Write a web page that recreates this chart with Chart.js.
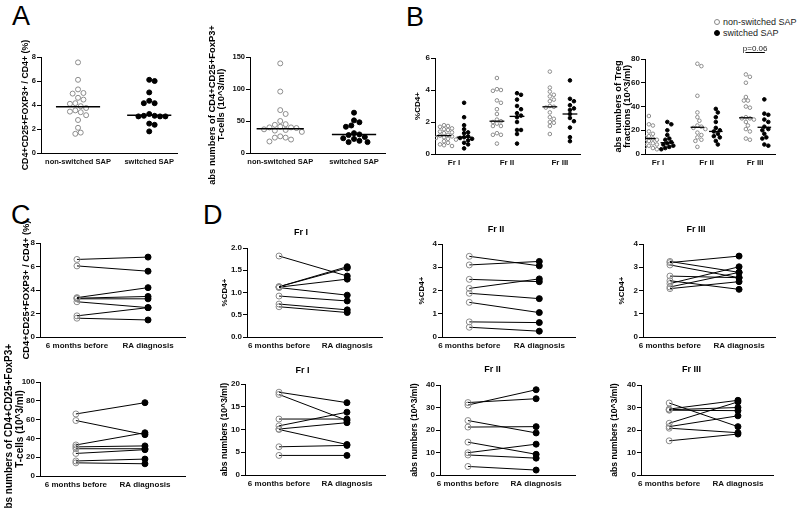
<!DOCTYPE html>
<html>
<head>
<meta charset="utf-8">
<script src="https://cdn.jsdelivr.net/npm/chart.js@4.4.0/dist/chart.umd.min.js"></script>
<style>
html, body { margin: 0; padding: 0; background: #fff; overflow: hidden; width: 798px; height: 508px; }
#fig { position: relative; width: 798px; height: 508px; overflow: hidden; font-family: 'Liberation Sans', Arial, sans-serif; }
#fig canvas { position: absolute; }
.letter { position: absolute; font-size: 27px; line-height: 1; color: #000; }
.legend { position: absolute; left: 714px; top: 17px; font-size: 9px; line-height: 10.5px; color: #222; }
.dot { display: inline-block; width: 4px; height: 4px; border-radius: 50%; border: 1px solid #888; margin-right: 3px; vertical-align: 0px; }
.dot.filled { background: #000; border-color: #000; }
</style>
</head>
<body>
<div id="fig">
  <div class="letter" style="left:12px;top:3px">A</div>
  <div class="letter" style="left:406px;top:4px">B</div>
  <div class="letter" style="left:11px;top:202px">C</div>
  <div class="letter" style="left:203px;top:202px">D</div>
  <div class="legend">
    <div><span class="dot"></span>non-switched SAP</div>
    <div><span class="dot filled"></span>switched SAP</div>
  </div>
</div>
<script>
// ---- categories ----
const groupsA = ['non-switched SAP', 'switched SAP'];
const fractions = ['Fr I', 'Fr II', 'Fr III'];
const timepoints = ['6 months before', 'RA diagnosis'];

// ---- A: Treg % and absolute numbers ----
const aPctNon = [7.55, 6.1, 5.3, 5.0, 4.95, 4.6, 4.45, 4.15, 4.1, 3.9, 3.75, 3.55, 3.45, 3.4, 3.15, 2.75, 2.1, 1.7, 1.6];
const aPctSw = [6.1, 6.0, 5.05, 4.35, 4.15, 4.15, 3.25, 3.1, 3.05, 3.05, 3.05, 3.1, 2.45, 2.35, 1.8];
const aPctMedians = [3.85, 3.15];
const aAbsNon = [140, 96, 67, 61, 50, 45, 44, 41, 40, 40, 39, 37, 36, 35, 33, 26, 24, 24, 21, 18];
const aAbsSw = [63, 51, 48, 43, 41, 31, 29, 28, 25, 23, 22, 19, 17, 17];
const aAbsMedians = [38, 29];

// ---- B: Treg fractions ----
const bPctNonFrI = [1.8, 1.75, 1.7, 1.6, 1.55, 1.5, 1.4, 1.35, 1.3, 1.2, 1.15, 1.1, 1.05, 1.0, 0.95, 0.9, 0.8, 0.7, 0.6, 0.55, 0.5];
const bPctSwFrI = [3.2, 2.3, 1.8, 1.55, 1.35, 1.3, 1.1, 1.05, 1.0, 0.95, 0.85, 0.7, 0.6, 0.35];
const bPctNonFrII = [4.75, 4.05, 4.0, 3.95, 3.35, 3.2, 2.8, 2.5, 2.15, 2.05, 2.0, 1.9, 1.75, 1.75, 1.3, 1.2, 1.2, 0.65];
const bPctSwFrII = [3.8, 3.7, 3.4, 3.0, 2.8, 2.55, 2.4, 2.3, 2.0, 1.5, 1.5, 1.25, 0.65];
const bPctNonFrIII = [5.15, 4.15, 3.9, 3.7, 3.6, 3.4, 3.3, 3.0, 2.95, 2.9, 2.6, 2.3, 2.2, 2.0, 1.95, 1.75, 1.25];
const bPctSwFrIII = [4.6, 3.45, 3.3, 3.05, 2.85, 2.75, 2.5, 2.25, 2.05, 1.65, 1.05, 0.8];
const bPctMediansNon = [1.15, 2.05, 2.95];
const bPctMediansSw = [1.05, 2.35, 2.5];

const bAbsNonFrI = [32, 25, 24, 19, 17, 15, 14, 13, 12, 11, 10, 9, 8, 7, 6, 5, 4];
const bAbsSwFrI = [27, 25, 20, 16, 13, 12, 10, 9, 8, 7, 6, 5, 4];
const bAbsNonFrII = [76, 74, 49, 35, 31, 28, 24, 23, 22, 21, 18, 16, 14, 12, 11, 6];
const bAbsSwFrII = [38, 35, 31, 27, 22, 20, 19, 17, 15, 14, 11, 8];
const bAbsNonFrIII = [67, 65, 60, 48, 45, 45, 40, 39, 31, 30, 30, 29, 27, 24, 21, 19, 13, 12];
const bAbsSwFrIII = [46, 34, 33, 29, 27, 23, 21, 20, 17, 14, 13, 8, 7];
const bAbsMediansNon = [13, 22.5, 30.5];
const bAbsMediansSw = [9.5, 19, 22.5];
const pLabel = 'p=0.06';

// ---- C: paired Treg, before vs at diagnosis ----
const cPctBefore = [6.6, 6.05, 3.35, 3.3, 3.25, 3.0, 1.8, 1.6];
const cPctAfter = [6.8, 5.6, 4.2, 3.45, 3.25, 2.5, 2.5, 1.45];
const cAbsBefore = [66, 59, 33, 31, 29, 24, 16, 14];
const cAbsAfter = [78, 44, 46, 32, 29, 28, 18, 13];

// ---- D: paired fractions ----
const dPctFrIBefore = [1.82, 1.13, 1.13, 1.12, 1.11, 0.92, 0.74, 0.68];
const dPctFrIAfter = [1.37, 1.58, 1.55, 1.3, 0.94, 0.81, 0.61, 0.55];
const dPctFrIIBefore = [3.47, 3.1, 2.48, 2.09, 1.88, 1.49, 0.65, 0.42];
const dPctFrIIAfter = [3.06, 3.25, 2.38, 2.5, 1.65, 1.05, 0.62, 0.25];
const dPctFrIIIBefore = [3.25, 3.2, 3.1, 2.62, 2.42, 2.3, 2.15, 2.08];
const dPctFrIIIAfter = [2.78, 3.48, 2.55, 2.55, 2.05, 3.02, 2.78, 2.38];
const dAbsFrIBefore = [18.2, 17.7, 12.3, 10.8, 10.1, 10.0, 6.2, 4.3];
const dAbsFrIAfter = [15.9, 12.0, 12.3, 13.8, 11.5, 6.7, 6.5, 4.3];
const dAbsFrIIBefore = [32.2, 31.1, 24.2, 21.3, 14.6, 9.9, 8.9, 3.8];
const dAbsFrIIAfter = [33.9, 37.9, 18.7, 21.5, 9.2, 13.7, 7.5, 2.2];
const dAbsFrIIIBefore = [32, 29.3, 29, 28.8, 23, 21.5, 20.8, 15.2];
const dAbsFrIIIAfter = [21.5, 33.2, 30, 28.6, 32.5, 26.3, 18.8, 18.2];

const FONT = "'Liberation Sans', Arial, sans-serif";
const OPEN = { pointBackgroundColor: 'rgba(255,255,255,0)', pointBorderColor: '#8c8c8c', pointBorderWidth: 1 };
const FILLED = { pointBackgroundColor: '#000', pointBorderColor: '#000', pointBorderWidth: 1 };
const EXTRA = 45; // spare canvas room so long axis titles are not cut off

Chart.defaults.font.family = FONT;

// simple beeswarm: spread points sideways so they do not overlap
function swarm(values, pxX, pxY, r) {
    const d = 2 * r + 0.4;
    const step = d / 2;
    const placed = [];
    const offs = values.map(() => 0);
    values.map((v, i) => i).sort((a, b) => values[b] - values[a]).forEach(i => {
        const py = values[i] * pxY;
        for (let k = 0; k < 60; k++) {
            const px = Math.ceil(k / 2) * step * (k % 2 ? 1 : -1);
            if (placed.every(p => Math.hypot(p[0] - px, p[1] - py) >= d)) {
                placed.push([px, py]);
                offs[i] = px / pxX;
                break;
            }
        }
    });
    return offs;
}

function groupPoints(values, center, g, r, style) {
    const offs = swarm(values, g.pxX, g.pxY, r);
    return Object.assign({
        data: values.map((v, i) => ({ x: center + offs[i], y: v })),
        pointRadius: r, pointHoverRadius: r
    }, style);
}

function medianLine(m, center, half, width) {
    return {
        showLine: true, data: [{ x: center - half, y: m }, { x: center + half, y: m }],
        borderColor: '#000', borderWidth: width, pointRadius: 0
    };
}

function pairLines(before, after) {
    return before.map((b, i) => ({
        showLine: true, data: [{ x: 0, y: b }, { x: 1, y: after[i] }],
        borderColor: '#000', borderWidth: 1, pointRadius: 3, pointHoverRadius: 3,
        pointBackgroundColor: ['rgba(255,255,255,0)', '#000'],
        pointBorderColor: ['#8c8c8c', '#000'], pointBorderWidth: 1
    }));
}

const pValuePlugin = {
    id: 'pvalue',
    afterDraw(chart) {
        const { ctx, scales: { x } } = chart;
        const x1 = x.getPixelForValue(2 - 0.2), x2 = x.getPixelForValue(2 + 0.2);
        const yy = chart.chartArea.top - 6.5;
        ctx.save();
        ctx.strokeStyle = '#000';
        ctx.lineWidth = 1;
        ctx.beginPath();
        ctx.moveTo(x1, yy);
        ctx.lineTo(x2, yy);
        ctx.stroke();
        ctx.fillStyle = '#222';
        ctx.font = '8px ' + FONT;
        ctx.textAlign = 'center';
        ctx.textBaseline = 'alphabetic';
        ctx.fillText(pLabel, (x1 + x2) / 2, yy - 2);
        ctx.restore();
    }
};

function makeChart(s) {
    const [l, t, r, b] = s.plot;
    const lhRel = s.yTitleLH || 1.15;
    const cl = Math.round(s.titleX - s.yTitleSize * lhRel / 2);
    const padL = l - cl;
    const padB = 17 + EXTRA;
    let padR = 8;
    let ct, layoutTop, titleOpt = { display: false };
    if (s.title) {
        const th = 9 * 1.2;
        const titleTop = Math.round(s.titleY - th / 2);
        ct = titleTop - EXTRA;
        padR = Math.max(8, Math.round(2 * (s.titleCx - cl) - padL - (r - l)));
        titleOpt = {
            display: true, text: s.title, color: '#000',
            font: { family: FONT, size: 9, weight: 'bold', lineHeight: 1.2 },
            padding: { top: 0, bottom: t - titleTop - th }
        };
        layoutTop = EXTRA;
    } else {
        layoutTop = (s.padTop || 8) + EXTRA;
        ct = t - layoutTop;
    }
    const w = padL + (r - l) + padR;
    const h = (t - ct) + (b - t) + padB;
    const canvas = document.createElement('canvas');
    canvas.width = w;
    canvas.height = h;
    canvas.style.left = cl + 'px';
    canvas.style.top = ct + 'px';
    canvas.style.width = w + 'px';
    canvas.style.height = h + 'px';
    document.getElementById('fig').appendChild(canvas);

    const geom = { pxX: (r - l) / (s.xMax - s.xMin), pxY: (b - t) / (s.yMax - s.yMin) };
    const tickFont = { family: FONT, size: s.tickSize || 8, weight: 'bold' };

    new Chart(canvas.getContext('2d'), {
        type: 'scatter',
        data: { datasets: s.datasets(geom) },
        options: {
            responsive: false,
            animation: false,
            devicePixelRatio: 1,
            layout: { padding: { top: layoutTop, right: padR, bottom: 0, left: 0 } },
            plugins: { legend: { display: false }, tooltip: { enabled: false }, title: titleOpt },
            scales: {
                x: {
                    type: 'linear', min: s.xMin, max: s.xMax,
                    afterBuildTicks: sc => { sc.ticks = s.xLabels.map((_, i) => ({ value: i })); },
                    afterFit: sc => { sc.height = padB; },
                    ticks: {
                        callback: v => s.xLabels[Math.round(v)], color: '#111', font: tickFont,
                        padding: 4, maxRotation: 0, autoSkip: false
                    },
                    grid: { drawOnChartArea: false, drawTicks: false },
                    border: { display: true, color: '#000', width: 1 }
                },
                y: {
                    min: s.yMin, max: s.yMax,
                    afterFit: sc => { sc.width = padL; },
                    ticks: {
                        stepSize: s.yStep, color: '#111', font: tickFont, padding: 1,
                        callback: s.yFmt || (v => v)
                    },
                    grid: { drawOnChartArea: false, drawTicks: true, tickLength: 4, color: '#000' },
                    border: { display: true, color: '#000', width: 1 },
                    title: {
                        display: true, text: s.yTitle, color: '#000', padding: 0,
                        font: { family: FONT, size: s.yTitleSize, weight: 'bold', lineHeight: lhRel }
                    }
                }
            }
        },
        plugins: s.plugins || []
    });
}

const titlePct = 'CD4+CD25+FOXP3+ / CD4+ (%)';
const titleAbs = ['abs numbers of CD4+CD25+FoxP3+', 'T-cells (10^3/ml)'];
const bSub = 0.19;

// A left
makeChart({
    plot: [41, 57, 177, 153], xMin: -0.52, xMax: 1.39, xLabels: groupsA,
    yMin: 0, yMax: 8, yStep: 2, yTitle: titlePct, yTitleSize: 8.8, titleX: 26, tickSize: 7.5,
    datasets: g => [
        medianLine(aPctMedians[0], 0, 0.31, 1.5), medianLine(aPctMedians[1], 1, 0.31, 1.5),
        groupPoints(aPctNon, 0, g, 2.5, OPEN), groupPoints(aPctSw, 1, g, 2.5, FILLED)
    ]
});

// A right
makeChart({
    plot: [250, 57, 385, 153], xMin: -0.41, xMax: 1.42, xLabels: groupsA,
    yMin: 0, yMax: 150, yStep: 50, yTitle: titleAbs, yTitleSize: 9.4, yTitleLH: 0.98, titleX: 213, tickSize: 7.5,
    datasets: g => [
        medianLine(aAbsMedians[0], 0, 0.32, 1.5), medianLine(aAbsMedians[1], 1, 0.3, 1.5),
        groupPoints(aAbsNon, 0, g, 2.5, OPEN), groupPoints(aAbsSw, 1, g, 2.5, FILLED)
    ]
});

// B left
const bPctNon = [bPctNonFrI, bPctNonFrII, bPctNonFrIII];
const bPctSw = [bPctSwFrI, bPctSwFrII, bPctSwFrIII];
makeChart({
    plot: [435, 58, 580, 154], xMin: -0.36, xMax: 2.38, xLabels: fractions,
    yMin: 0, yMax: 6, yStep: 2, yTitle: '%CD4+', yTitleSize: 8, titleX: 418, tickSize: 8,
    datasets: g => [
        ...fractions.map((f, i) => medianLine(bPctMediansNon[i], i - bSub, 0.14, 1.3)),
        ...fractions.map((f, i) => medianLine(bPctMediansSw[i], i + bSub, 0.14, 1.3)),
        ...fractions.map((f, i) => groupPoints(bPctNon[i], i - bSub, g, 1.8, OPEN)),
        ...fractions.map((f, i) => groupPoints(bPctSw[i], i + bSub, g, 1.8, FILLED))
    ]
});

// B right
const bAbsNon = [bAbsNonFrI, bAbsNonFrII, bAbsNonFrIII];
const bAbsSw = [bAbsSwFrI, bAbsSwFrII, bAbsSwFrIII];
makeChart({
    plot: [645, 59, 775, 154], xMin: -0.27, xMax: 2.41, xLabels: fractions,
    yMin: 0, yMax: 80, yStep: 20, yTitle: ['abs numbers of Treg', 'fractions (10^3/ml)'],
    yTitleSize: 9.4, yTitleLH: 0.95, titleX: 618, tickSize: 8, padTop: 20,
    plugins: [pValuePlugin],
    datasets: g => [
        ...fractions.map((f, i) => medianLine(bAbsMediansNon[i], i - bSub, 0.14, 1.3)),
        ...fractions.map((f, i) => medianLine(bAbsMediansSw[i], i + bSub, 0.14, 1.3)),
        ...fractions.map((f, i) => groupPoints(bAbsNon[i], i - bSub, g, 1.8, OPEN)),
        ...fractions.map((f, i) => groupPoints(bAbsSw[i], i + bSub, g, 1.8, FILLED))
    ]
});

// C
makeChart({
    plot: [40, 243, 185, 337], xMin: -0.52, xMax: 1.52, xLabels: timepoints,
    yMin: 0, yMax: 8, yStep: 2, yTitle: titlePct, yTitleSize: 9.4, titleX: 26,
    datasets: () => pairLines(cPctBefore, cPctAfter)
});
makeChart({
    plot: [40, 382, 185, 476], xMin: -0.52, xMax: 1.58, xLabels: timepoints,
    yMin: 0, yMax: 100, yStep: 20, yTitle: titleAbs, yTitleSize: 10, yTitleLH: 1.1, titleX: 9,
    datasets: () => pairLines(cAbsBefore, cAbsAfter)
});

// D top row (%CD4+)
makeChart({
    plot: [247, 248, 382, 337], xMin: -0.47, xMax: 1.51, xLabels: timepoints,
    yMin: 0, yMax: 2, yStep: 0.5, yFmt: v => v.toFixed(1), yTitle: '%CD4+', yTitleSize: 8, titleX: 225,
    title: 'Fr I', titleY: 232, titleCx: 315,
    datasets: () => pairLines(dPctFrIBefore, dPctFrIAfter)
});
makeChart({
    plot: [442, 244, 575, 337], xMin: -0.39, xMax: 1.51, xLabels: timepoints,
    yMin: 0, yMax: 4, yStep: 1, yTitle: '%CD4+', yTitleSize: 8, titleX: 422,
    title: 'Fr II', titleY: 229, titleCx: 500,
    datasets: () => pairLines(dPctFrIIBefore, dPctFrIIAfter)
});
makeChart({
    plot: [643, 244, 775, 337], xMin: -0.39, xMax: 1.52, xLabels: timepoints,
    yMin: 0, yMax: 4, yStep: 1, yTitle: '%CD4+', yTitleSize: 8, titleX: 622,
    title: 'Fr III', titleY: 229, titleCx: 704,
    datasets: () => pairLines(dPctFrIIIBefore, dPctFrIIIAfter)
});

// D bottom row (abs numbers)
makeChart({
    plot: [245, 384, 385, 475], xMin: -0.5, xMax: 1.56, xLabels: timepoints,
    yMin: 0, yMax: 20, yStep: 5, yTitle: 'abs numbers (10^3/ml)', yTitleSize: 8.6, titleX: 225,
    title: 'Fr I', titleY: 370, titleCx: 315,
    datasets: () => pairLines(dAbsFrIBefore, dAbsFrIAfter)
});
makeChart({
    plot: [440, 385, 575, 475], xMin: -0.41, xMax: 1.57, xLabels: timepoints,
    yMin: 0, yMax: 40, yStep: 10, yTitle: 'abs numbers (10^3/ml)', yTitleSize: 8.6, titleX: 415,
    title: 'Fr II', titleY: 369, titleCx: 500,
    datasets: () => pairLines(dAbsFrIIBefore, dAbsFrIIAfter)
});
makeChart({
    plot: [641, 385, 773, 475], xMin: -0.41, xMax: 1.51, xLabels: timepoints,
    yMin: 0, yMax: 40, yStep: 10, yTitle: 'abs numbers (10^3/ml)', yTitleSize: 8.6, titleX: 615,
    title: 'Fr III', titleY: 369, titleCx: 702,
    datasets: () => pairLines(dAbsFrIIIBefore, dAbsFrIIIAfter)
});
</script>
</body>
</html>
